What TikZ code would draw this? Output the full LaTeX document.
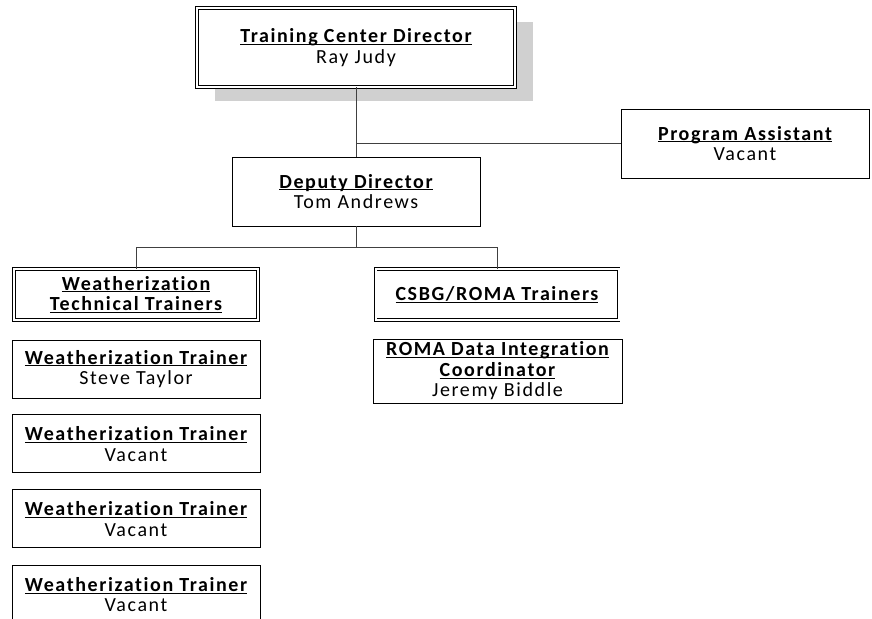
\documentclass[tikz,border=0pt]{standalone}
\usepackage{fontspec}
\setmainfont{Carlito}[LetterSpace=8, Ligatures={NoCommon}]
\usetikzlibrary{positioning, shadows}
\definecolor{Org_Line}{HTML}{404040}
\definecolor{Org_Shadow}{HTML}{D0D0D0}
\newcommand{\posttitle}[1]{\textbf{\setbox0\hbox{#1}\rlap{\rule[-2.2pt]{\wd0}{1pt}}\box0}}

\begin{document}
\begin{tikzpicture}[x=1pt, y=-1pt,
  every node/.style={font=\fontsize{20}{20.5}\selectfont},
  post/.style={draw, fill=white, line width=0.9pt, minimum width=248pt,
    minimum height=#1, align=center, inner sep=1pt},
  post/.default={58pt},
  group/.style={post=#1, double, double distance=2pt, line width=0.8pt},
  link/.style={Org_Line, line width=0.8pt}
]
  \useasboundingbox (0,0) rectangle (872,618);

  % Top level
  \node[group=79pt, minimum width=318pt,
    drop shadow={shadow xshift=18pt, shadow yshift=-14pt, fill=Org_Shadow, opacity=1}]
    (tcd) at (356,47.5) {\posttitle{Training Center Director}\\Ray Judy};
  \node[post=69pt] (pa) at (745,143.5) {\posttitle{Program Assistant}\\Vacant};
  \node[post=69pt] (dd) at (356,191.5) {\posttitle{Deputy Director}\\Tom Andrews};

  % Groups
  \node[group=51pt, minimum width=244pt] (wtt) at (136,294.5)
    {\posttitle{Weatherization}\\\posttitle{Technical Trainers}};
  \node[group=51pt, minimum width=243pt] (csbg) at (497,294.5)
    {\posttitle{CSBG/ROMA Trainers}};

  % Staff
  \node[post=64pt, minimum width=249pt] (roma) at (497.5,371)
    {\posttitle{ROMA Data Integration}\\\posttitle{Coordinator}\\Jeremy Biddle};
  \node[post] (wt1) at (136,369) {\posttitle{Weatherization Trainer}\\Steve Taylor};
  \node[post, below=16pt of wt1] (wt2) {\posttitle{Weatherization Trainer}\\Vacant};
  \node[post, below=16pt of wt2] (wt3) {\posttitle{Weatherization Trainer}\\Vacant};
  \node[post, below=17pt of wt3] (wt4) {\posttitle{Weatherization Trainer}\\Vacant};

  % Connectors
  \draw[link] (tcd.south) -- (dd.north);
  \coordinate (pajoin) at (tcd.south |- pa.west);
  \draw[link] (pajoin) -- (pa.west);
  \draw[link] (dd.south) -- ++(0,21) coordinate (bus);
  \draw[link] (bus) -| (wtt.north);
  \draw[link] (bus) -| (csbg.north);
\end{tikzpicture}
\end{document}
